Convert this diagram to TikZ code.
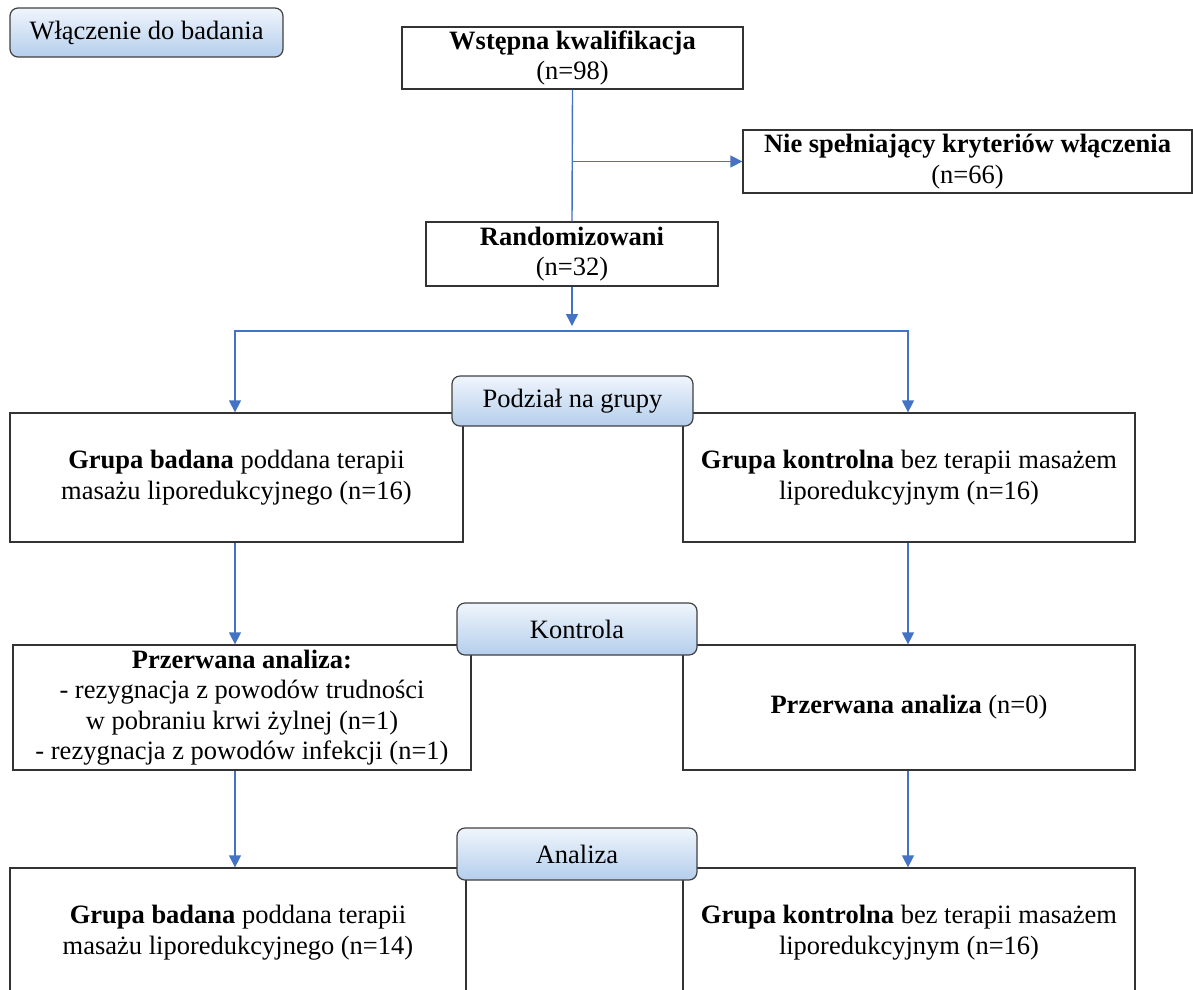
\documentclass[tikz,border=0pt]{standalone}
\usepackage{fontspec}
\setmainfont{Liberation Serif}
\usetikzlibrary{arrows.meta}
\definecolor{flowblue}{HTML}{4472C4}
\definecolor{stagetop}{HTML}{F0F5FC}
\definecolor{stagebot}{HTML}{B4CEEC}
\tikzset{box/.style={draw=black!80, line width=1.3pt, fill=white, align=center,
  inner sep=0pt},
  stage/.style={draw=black!75, line width=1.2pt, rounded corners=8pt,
  top color=stagetop, bottom color=stagebot, align=center, inner sep=0pt},
  flow/.style={draw=flowblue, line width=1.4pt}}

\begin{document}
\begin{tikzpicture}[x=1pt, y=-1pt, >={Triangle[length=12pt, width=12pt]},
  every node/.style={font=\fontsize{26.5}{30.5}\selectfont}]
  \useasboundingbox (0,0) rectangle (1193,989);
  \node[box, minimum width=341pt, minimum height=62pt] (qual) at (572.5, 58)
    {\textbf{Wstępna kwalifikacja}\\(n=98)};
  \node[box, minimum width=449pt, minimum height=63pt] (excl) at (967.5, 161.5)
    {\textbf{Nie spełniający kryteriów włączenia}\\(n=66)};
  \node[box, minimum width=292pt, minimum height=64pt] (rand) at (572, 254)
    {\textbf{Randomizowani}\\(n=32)};
  \node[box, minimum width=453pt, minimum height=129pt] (grpL) at (236.5, 477.5)
    {\textbf{Grupa badana} poddana terapii\\masażu liporedukcyjnego (n=16)};
  \node[box, minimum width=452pt, minimum height=129pt] (grpR) at (909, 477.5)
    {\textbf{Grupa kontrolna} bez terapii masażem\\liporedukcyjnym (n=16)};
  \node[box, minimum width=458pt, minimum height=125pt] (stopL) at (242, 707.5)
    {\textbf{Przerwana analiza:}\\- rezygnacja z powodów trudności\\
     w pobraniu krwi żylnej (n=1)\\- rezygnacja z powodów infekcji (n=1)};
  \node[box, minimum width=452pt, minimum height=125pt] (stopR) at (909, 707.5)
    {\textbf{Przerwana analiza} (n=0)};
  \node[box, minimum width=456pt, minimum height=129pt] (finL) at (238, 932.5)
    {\textbf{Grupa badana} poddana terapii\\masażu liporedukcyjnego (n=14)};
  \node[box, minimum width=452pt, minimum height=129pt] (finR) at (909, 932.5)
    {\textbf{Grupa kontrolna} bez terapii masażem\\liporedukcyjnym (n=16)};
  % fork points under the randomisation box
  \coordinate (forkTip) at (572, 326);
  \coordinate (forkL) at (235, 331);
  \coordinate (forkR) at (908, 331);
  % connectors
  \draw[flow] (qual.south) -- (rand.north);
  \draw[flow, ->] (qual.south |- excl.west) -- (excl.west);
  \draw[flow, ->] (rand.south) -- (forkTip);
  \draw[flow, <->] (grpL.north -| forkL) -- (forkL) -- (forkR) -- (grpR.north -| forkR);
  \draw[flow, ->] (grpL.south -| forkL) -- (stopL.north -| forkL);
  \draw[flow, ->] (grpR.south -| forkR) -- (stopR.north -| forkR);
  \draw[flow, ->] (stopL.south -| forkL) -- (finL.north -| forkL);
  \draw[flow, ->] (stopR.south -| forkR) -- (finR.north -| forkR);
  % stage labels
  \node[stage, minimum width=273pt, minimum height=49pt] (incl) at (146.5, 32.5)
    {Włączenie do badania};
  \node[stage, minimum width=241pt, minimum height=50pt] (split) at (572.5, 401)
    {Podział na grupy};
  \node[stage, minimum width=240pt, minimum height=52pt] (ctrl) at (577, 629)
    {Kontrola};
  \node[stage, minimum width=240pt, minimum height=52pt] (anal) at (577, 854)
    {Analiza};
\end{tikzpicture}
\end{document}
